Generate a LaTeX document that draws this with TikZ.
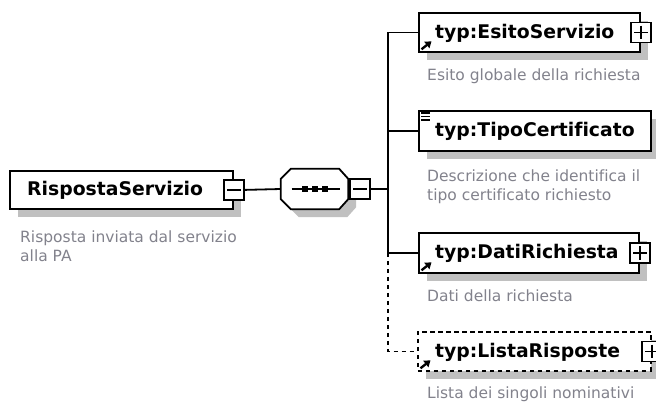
\documentclass[tikz,border=0pt]{standalone}
\usepackage{fontspec}
\setmainfont{DejaVu Sans}[Ligatures=NoCommon]
\usetikzlibrary{arrows.meta}
\definecolor{shadowgray}{RGB}{192,192,192}
\definecolor{desccol}{RGB}{130,130,140}
\begin{document}
\begin{tikzpicture}[x=1pt,y=-1pt,
  elbox/.style={draw=black, line width=1.8pt, fill=white, inner sep=0pt, anchor=north west,
    preaction={fill=shadowgray, draw=none, transform canvas={xshift=8pt,yshift=-8pt}}},
  optbox/.style={elbox, dash pattern=on 4.5pt off 3.5pt},
  nametxt/.style={font=\fontsize{18.8}{20}\selectfont\bfseries, inner sep=0pt, anchor=base west},
  desc/.style={font=\fontsize{15.5}{19}\selectfont, text=desccol, inner sep=0pt, anchor=west, align=left},
  pm/.style={draw=black, fill=white, line width=1.5pt, minimum size=20pt, inner sep=0pt},
  sym/.style={line width=1.6pt},
  conn/.style={line width=1.8pt},
  icon/.style={line width=2.4pt, -{Triangle[length=6pt,width=8pt]}},
]
\useasboundingbox (0,0) rectangle (656,405);

% root element
\node[elbox, minimum width=223pt, minimum height=38pt] (root) at (9,170) {};
\node[nametxt] (rootT) at ([xshift=18pt,yshift=-6pt]root.west) {RispostaServizio};
\node[pm] (rootpm) at (root.east) {};
\draw[sym] ([xshift=4pt]rootpm.west) -- ([xshift=-4pt]rootpm.east);
\node[desc] (rootD) at (20,246) {Risposta inviata dal servizio\\alla PA};

% sequence compositor
\node[minimum width=67pt, minimum height=40pt, inner sep=0pt] (seq) at (314.5,189) {};
\fill[shadowgray, transform canvas={xshift=8pt,yshift=-8pt}]
  ([yshift=-10pt]seq.north west) -- ([xshift=10pt]seq.north west) -- ([xshift=-9pt]seq.north east)
  -- ([yshift=-10pt]seq.north east) -- ([yshift=10pt]seq.south east) -- ([xshift=-9pt]seq.south east)
  -- ([xshift=10pt]seq.south west) -- ([yshift=10pt]seq.south west) -- cycle;
\draw[line width=1.8pt, fill=white]
  ([yshift=-10pt]seq.north west) -- ([xshift=10pt]seq.north west) -- ([xshift=-9pt]seq.north east)
  -- ([yshift=-10pt]seq.north east) -- ([yshift=10pt]seq.south east) -- ([xshift=-9pt]seq.south east)
  -- ([xshift=10pt]seq.south west) -- ([yshift=10pt]seq.south west) -- cycle;
\draw[line width=1.5pt] ([xshift=-23pt]seq.center) -- ([xshift=25pt]seq.center);
\foreach \dx in {-10,0,10}{
  \fill ([xshift=\dx pt-3pt,yshift=-3pt]seq.center) rectangle ([xshift=\dx pt+3pt,yshift=3pt]seq.center);
}
\node[pm, anchor=west] (seqpm) at ([xshift=1pt]seq.east) {};
\draw[sym] ([xshift=4pt]seqpm.west) -- ([xshift=-4pt]seqpm.east);

% children
\node[elbox, minimum width=221pt, minimum height=39pt] (esito) at (418,12) {};
\node[nametxt] (esitoT) at ([xshift=17pt,yshift=-6pt]esito.west) {typ:EsitoServizio};
\node[pm] (esitopm) at (esito.east) {};
\draw[sym] ([xshift=4pt]esitopm.west) -- ([xshift=-4pt]esitopm.east)
  ([yshift=-4pt]esitopm.north) -- ([yshift=4pt]esitopm.south);
\draw[icon] ([xshift=3.5pt,yshift=3.5pt]esito.south west) -- ++(10,-8);
\node[desc] (esitoD) at (427,76) {Esito globale della richiesta};

\node[elbox, minimum width=232pt, minimum height=40pt] (tipo) at (418,110) {};
\node[nametxt] (tipoT) at ([xshift=17pt,yshift=-6pt]tipo.west) {typ:TipoCertificato};
\draw[line width=1.2pt] ([xshift=3pt,yshift=-3pt]tipo.north west) -- ([xshift=12pt,yshift=-3pt]tipo.north west)
  ([xshift=3pt,yshift=-6.5pt]tipo.north west) -- ([xshift=12pt,yshift=-6.5pt]tipo.north west)
  ([xshift=3pt,yshift=-10pt]tipo.north west) -- ([xshift=12pt,yshift=-10pt]tipo.north west);
\node[desc] (tipoD) at (427,187) {Descrizione che identifica il\\tipo certificato richiesto};

\node[elbox, minimum width=220pt, minimum height=40pt] (dati) at (418,232) {};
\node[nametxt] (datiT) at ([xshift=17pt,yshift=-6pt]dati.west) {typ:DatiRichiesta};
\node[pm] (datipm) at (dati.east) {};
\draw[sym] ([xshift=4pt]datipm.west) -- ([xshift=-4pt]datipm.east)
  ([yshift=-4pt]datipm.north) -- ([yshift=4pt]datipm.south);
\draw[icon] ([xshift=3.5pt,yshift=3.5pt]dati.south west) -- ++(10,-8);
\node[desc] (datiD) at (427,296) {Dati della richiesta};

\node[optbox, minimum width=233pt, minimum height=39pt] (lista) at (417,331) {};
\node[nametxt] (listaT) at ([xshift=18pt,yshift=-6pt]lista.west) {typ:ListaRisposte};
\node[pm] (listapm) at (lista.east) {};
\draw[sym] ([xshift=4pt]listapm.west) -- ([xshift=-4pt]listapm.east)
  ([yshift=-4pt]listapm.north) -- ([yshift=4pt]listapm.south);
\draw[icon] ([xshift=3.5pt,yshift=3.5pt]lista.south west) -- ++(10,-8);
\node[desc] (listaD) at (427,394) {Lista dei singoli nominativi};

% connectors
\coordinate (bus) at (388,189);
\draw[conn] (rootpm.east) -- (seq.west);
\draw[conn] (seqpm.east) -- (bus);
\draw[conn] (esito.west) -- (esito.west -| bus) -- (dati.west -| bus) -- (dati.west);
\draw[conn] (tipo.west) -- (tipo.west -| bus);
\draw[conn, dash pattern=on 4.5pt off 3.5pt] (dati.west -| bus) -- (lista.west -| bus) -- (lista.west);
\end{tikzpicture}
\end{document}
